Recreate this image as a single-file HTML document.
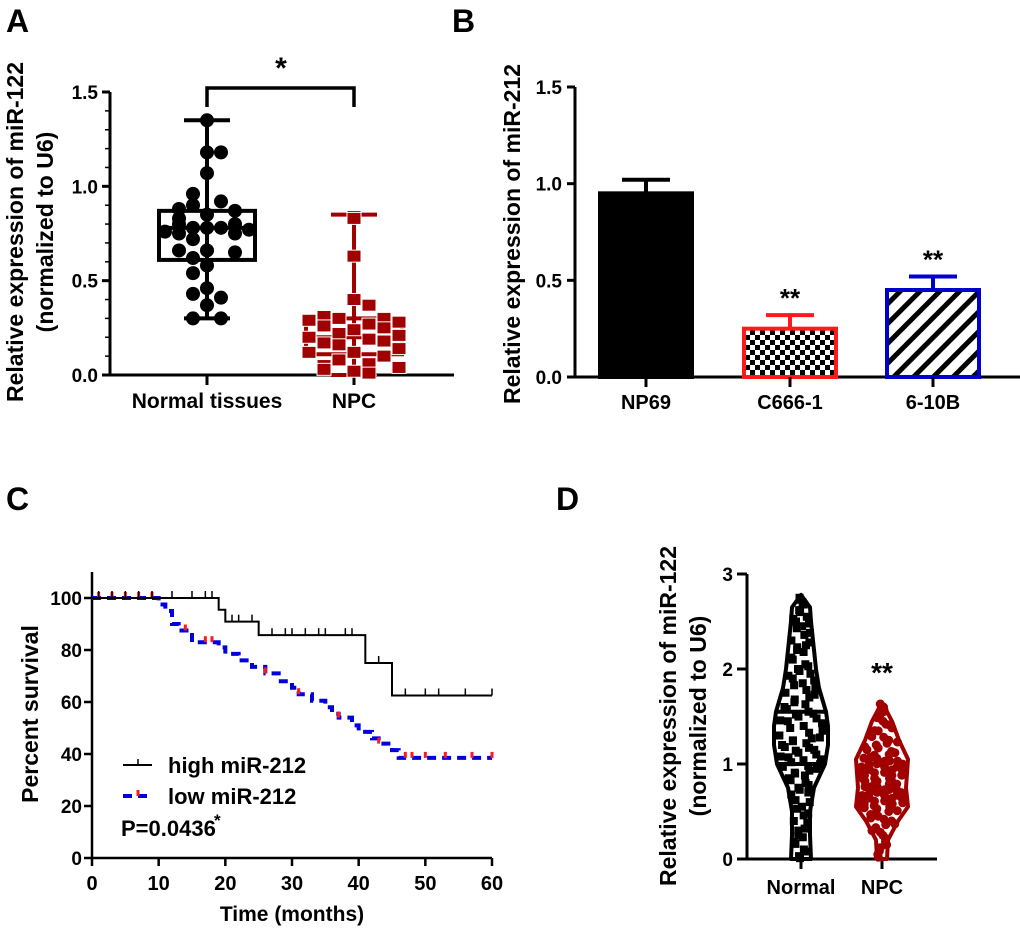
<!DOCTYPE html>
<html><head><meta charset="utf-8"><style>
html,body{margin:0;padding:0;background:#fff}
svg{display:block;font-family:"Liberation Sans",Arial,sans-serif;font-weight:bold}
</style></head><body>
<svg id="fig" width="1020" height="932" viewBox="0 0 1020 932" xmlns="http://www.w3.org/2000/svg">
<defs>
<pattern id="checker" width="10" height="10" patternUnits="userSpaceOnUse"><rect width="10" height="10" fill="#fff"/><rect width="5" height="5" fill="#000"/><rect x="5" y="5" width="5" height="5" fill="#000"/></pattern>
<pattern id="stripes" width="14" height="14" patternUnits="userSpaceOnUse" patternTransform="rotate(45)"><rect width="14" height="14" fill="#fff"/><rect width="5" height="14" fill="#000"/></pattern>
</defs>
<text x="6" y="32" font-size="32">A</text>
<text x="452" y="32" font-size="32">B</text>
<text x="6" y="510" font-size="32">C</text>
<text x="556" y="510" font-size="32">D</text>
<g id="pA"></g>
<g id="pB"></g>
<g id="pC"></g>
<g id="pD"></g>
</svg>
<script>
// ---------- Panel A data ----------
const aCategories = ["Normal tissues","NPC"];
const aYTicks = [0,0.5,1.0,1.5];
const aNormalBox = [0.30,0.61,0.78,0.87,1.35]; // min q1 median q3 max
const aNpcBox = [0.0,0.11,0.20,0.30,0.85];
const aNormalPoints = [1.35,1.18,1.18,1.07,0.96,0.92,0.90,0.88,0.87,0.85,0.83,0.80,0.80,0.78,0.78,0.78,0.77,0.76,0.75,0.75,0.72,0.66,0.66,0.65,0.62,0.58,0.54,0.46,0.43,0.41,0.37,0.30,0.30];
const aNormalJitter = [0,0,1,0,-1,1,-1,-2,2,0,-2,-2,2,-1,0,1,3,-3,2,-2,-1,-2,0,2,-1,0,-1,0,-1,1,0,-1,1];
const aNpcPoints = [0.84,0.83,0.63,0.40,0.37,0.31,0.30,0.30,0.29,0.28,0.27,0.26,0.25,0.24,0.22,0.21,0.20,0.19,0.18,0.17,0.16,0.14,0.12,0.12,0.10,0.08,0.06,0.05,0.04,0.03,0.02,0.01];
const aNpcJitter = [0,0,0,0,1,-2,2,-1,-3,3,1,-2,2,0,-1,3,-3,1,2,-2,-1,3,-3,0,2,-1,1,-2,3,-2,0,1];
// ---------- Panel B data ----------
const bCategories = ["NP69","C666-1","6-10B"];
const bValues = [0.95,0.25,0.45];
const bErrors = [0.07,0.07,0.07];
const bYTicks = [0,0.5,1.0,1.5];
// ---------- Panel C data ----------
const cXTicks = [0,10,20,30,40,50,60];
const cYTicks = [0,20,40,60,80,100];
const cHighTimes = [0,19,20,25,41,45,60];
const cHighSurv = [100,95.5,90.9,85.7,75,62.5,62.5];
const cHighCensor = [1,3,5,7,9,12,15,17,18,21,22,24,27,29,30,32,34,35,38,39,43,47,50,52,56,60];
const cLowTimes = [0,10,11,12,13,15,19,20,22,24,26,28,30,31,33,35,36,37,39,40,42,43,45,46,60];
const cLowSurv = [100,97.5,95,90,87.5,83,81,78.5,76,73.5,71,68,65.5,63,60.5,58,55.5,54,51,48.5,46,44,41.5,38.5,38.5];
const cLowCensor = [1,3,5,7,9,14,17,18,26,31,37,43,47,48,50,53,57,60];
// ---------- Panel D data ----------
const dCategories = ["Normal","NPC"];
const dYTicks = [0,1,2,3];
const dNormalProfileY = [0,0.25,0.5,0.75,1.0,1.2,1.4,1.55,1.8,2.0,2.3,2.5,2.65,2.78];
const dNormalProfileW = [0.1,0.09,0.09,0.13,0.24,0.27,0.27,0.25,0.18,0.15,0.12,0.1,0.09,0];
const dNormalLines = [1.0,1.55];
const dNpcProfileY = [0,0.2,0.4,0.55,0.75,1.05,1.25,1.45,1.65];
const dNpcProfileW = [0.05,0.06,0.16,0.26,0.24,0.26,0.17,0.1,0];
const dNormalPoints = [2.75,2.7,2.62,2.55,2.5,2.45,2.38,2.3,2.25,2.2,2.12,2.05,2.0,1.95,1.9,1.85,1.8,1.75,1.7,1.65,1.6,1.55,1.52,1.48,1.45,1.4,1.35,1.3,1.27,1.24,1.2,1.17,1.14,1.1,1.07,1.04,1.0,0.97,0.93,0.9,0.85,0.8,0.75,0.7,0.62,0.55,0.48,0.4,0.32,0.25,0.18,0.1,0.03];
const dNpcPoints = [1.6,1.52,1.45,1.38,1.32,1.25,1.2,1.15,1.1,1.06,1.03,1.0,0.97,0.94,0.91,0.88,0.85,0.82,0.79,0.76,0.73,0.7,0.67,0.64,0.61,0.58,0.56,0.54,0.5,0.45,0.4,0.33,0.25,0.15,0.05];

const NS="http://www.w3.org/2000/svg";
function mk(parent,tag,attrs,text){const e=document.createElementNS(NS,tag);for(const k in attrs)e.setAttribute(k,attrs[k]);if(text!==undefined)e.textContent=text;parent.appendChild(e);return e;}
function lin(d0,d1,r0,r1){return v=>r0+(v-d0)/(d1-d0)*(r1-r0);}

// ===== Panel A =====
(function(){
const g=document.getElementById('pA');
const y=lin(0,1.5,375,92);
const xs=[207,354];
let e=mk(g,'line',{x1:110,y1:375,x2:110,y2:92,stroke:'#000','stroke-width':3});

e=mk(g,'line',{x1:110,y1:375,x2:454,y2:375,stroke:'#000','stroke-width':3});

aYTicks.forEach(t=>{mk(g,'line',{x1:102,x2:110,y1:y(t),y2:y(t),stroke:'#000','stroke-width':3});
 e=mk(g,'text',{x:98,y:y(t)+7,'font-size':19,'text-anchor':'end'},t.toFixed(1));
 });
for(let i=1;i<16;i++){const t=i*0.1; if(Math.abs(t*2-Math.round(t*2))<1e-6)continue; mk(g,'line',{x1:105,x2:110,y1:y(t),y2:y(t),stroke:'#000','stroke-width':1.5});}
aCategories.forEach((c,i)=>{mk(g,'line',{x1:xs[i],x2:xs[i],y1:375,y2:385,stroke:'#000','stroke-width':3});
 e=mk(g,'text',{x:xs[i],y:408,'font-size':21,'text-anchor':'middle'},c);
 });
function box(b,cx,col,w,nm){const bg=mk(g,'g',{});
 mk(bg,'line',{x1:cx,x2:cx,y1:y(b[0]),y2:y(b[4]),stroke:col,'stroke-width':4});
 mk(bg,'line',{x1:cx-23,x2:cx+23,y1:y(b[0]),y2:y(b[0]),stroke:col,'stroke-width':4});
 mk(bg,'line',{x1:cx-23,x2:cx+23,y1:y(b[4]),y2:y(b[4]),stroke:col,'stroke-width':4});
 mk(bg,'rect',{x:cx-w/2,y:y(b[3]),width:w,height:y(b[1])-y(b[3]),fill:'none',stroke:col,'stroke-width':4});
 mk(bg,'line',{x1:cx-w/2,x2:cx+w/2,y1:y(b[2]),y2:y(b[2]),stroke:col,'stroke-width':4});}
box(aNormalBox,xs[0],'#000',96,'a-normal-box');
box(aNpcBox,xs[1],'#a00000',96,'a-npc-box');
aNormalPoints.forEach((v,i)=>{e=mk(g,'circle',{cx:xs[0]+aNormalJitter[i]*14,cy:y(v),r:7,fill:'#000'});
 });
aNpcPoints.forEach((v,i)=>{e=mk(g,'rect',{x:xs[1]+aNpcJitter[i]*15-7,y:y(v)-6,width:14,height:12,fill:'#a00000',stroke:'#fff','stroke-width':1});
 });
e=mk(g,'path',{d:`M${xs[0]} 107 V88 H${xs[1]} V107`,fill:'none',stroke:'#000','stroke-width':3.5});

e=mk(g,'text',{x:281,y:78,'font-size':30,'text-anchor':'middle'},'*');

e=mk(g,'text',{transform:'translate(23,232) rotate(-90)','font-size':23,'text-anchor':'middle'},'Relative expression of miR-122');

e=mk(g,'text',{transform:'translate(53,232) rotate(-90)','font-size':23,'text-anchor':'middle'},'(normalized to U6)');

})();

// ===== Panel B =====
(function(){
const g=document.getElementById('pB');
const y=lin(0,1.5,377,87);
const xs=[646,790,933];const bw=96;
const cols=['#000','#ff1a1a','#0000cc'];const fills=['#000','url(#checker)','url(#stripes)'];
let e=mk(g,'line',{x1:575,y1:377,x2:575,y2:87,stroke:'#000','stroke-width':3});

e=mk(g,'line',{x1:575,y1:377,x2:1020,y2:377,stroke:'#000','stroke-width':3});

bYTicks.forEach(t=>{mk(g,'line',{x1:567,x2:575,y1:y(t),y2:y(t),stroke:'#000','stroke-width':3});
 e=mk(g,'text',{x:562,y:y(t)+7,'font-size':19,'text-anchor':'end'},t.toFixed(1));
 });
bCategories.forEach((c,i)=>{
 const top=y(bValues[i]);
 mk(g,'line',{x1:xs[i],x2:xs[i],y1:top,y2:y(bValues[i]+bErrors[i]),stroke:cols[i],'stroke-width':4});
 mk(g,'line',{x1:xs[i]-24,x2:xs[i]+24,y1:y(bValues[i]+bErrors[i]),y2:y(bValues[i]+bErrors[i]),stroke:cols[i],'stroke-width':4});
 e=mk(g,'rect',{x:xs[i]-bw/2+2,y:top,width:bw-4,height:377-top,fill:fills[i],stroke:cols[i],'stroke-width':4});
 
 mk(g,'line',{x1:xs[i],x2:xs[i],y1:377,y2:387,stroke:'#000','stroke-width':3});
 e=mk(g,'text',{x:xs[i],y:409,'font-size':20,'text-anchor':'middle'},c);
 
 if(i>0){e=mk(g,'text',{x:xs[i],y:y(bValues[i]+bErrors[i])-8,'font-size':26,'text-anchor':'middle'},'**');
 }
});
e=mk(g,'text',{transform:'translate(520,234) rotate(-90)','font-size':23,'text-anchor':'middle'},'Relative expression of miR-212');

})();

// ===== Panel C =====
(function(){
const g=document.getElementById('pC');
const x=lin(0,60,92,492), y=lin(0,100,858,598);
let e=mk(g,'line',{x1:92,y1:858,x2:92,y2:572,stroke:'#000','stroke-width':2.5});

e=mk(g,'line',{x1:92,y1:858,x2:492,y2:858,stroke:'#000','stroke-width':2.5});

cYTicks.forEach(t=>{mk(g,'line',{x1:84,x2:92,y1:y(t),y2:y(t),stroke:'#000','stroke-width':2.5});
 e=mk(g,'text',{x:82,y:y(t)+7,'font-size':19,'text-anchor':'end'},t);
 });
cXTicks.forEach(t=>{mk(g,'line',{x1:x(t),x2:x(t),y1:858,y2:866,stroke:'#000','stroke-width':2.5});
 e=mk(g,'text',{x:x(t),y:890,'font-size':20,'text-anchor':'middle'},t);
 });
function stepPath(T,S){let d=`M${x(T[0])} ${y(S[0])}`;for(let i=1;i<T.length;i++){d+=` H${x(T[i])} V${y(S[i])}`;}return d;}
function survAt(T,S,t){let s=S[0];for(let i=0;i<T.length;i++){if(T[i]<=t)s=S[i];}return s;}
e=mk(g,'path',{d:stepPath(cLowTimes,cLowSurv),fill:'none',stroke:'#0000dd','stroke-width':4,'stroke-dasharray':'9 6'});

cLowCensor.forEach(t=>{const s=survAt(cLowTimes,cLowSurv,t);e=mk(g,'line',{x1:x(t),x2:x(t),y1:y(s),y2:y(s)-6,stroke:'#ff1a1a','stroke-width':3});
 });
e=mk(g,'path',{d:stepPath(cHighTimes,cHighSurv),fill:'none',stroke:'#000','stroke-width':2});

cHighCensor.forEach(t=>{const s=survAt(cHighTimes,cHighSurv,t);e=mk(g,'line',{x1:x(t),x2:x(t),y1:y(s),y2:y(s)-7,stroke:'#000','stroke-width':1.5});
 });
const lg=mk(g,'g',{});
mk(lg,'line',{x1:123,x2:152,y1:765,y2:765,stroke:'#000','stroke-width':2});
mk(lg,'line',{x1:138,x2:138,y1:765,y2:759,stroke:'#000','stroke-width':1.5});
e=mk(lg,'text',{x:168,y:773,'font-size':22},'high miR-212');
mk(lg,'line',{x1:123,x2:152,y1:796,y2:796,stroke:'#0000dd','stroke-width':4,'stroke-dasharray':'9 6'});
mk(lg,'line',{x1:138,x2:138,y1:796,y2:790,stroke:'#ff1a1a','stroke-width':3});
e=mk(lg,'text',{x:168,y:804,'font-size':22},'low miR-212');
e=mk(g,'text',{x:121,y:836,'font-size':22},'P=0.0436');
mk(g,'text',{x:214,y:826,'font-size':17},'*');
e=mk(g,'text',{x:292,y:921,'font-size':21,'text-anchor':'middle'},'Time (months)');

e=mk(g,'text',{transform:'translate(38,714) rotate(-90)','font-size':23,'text-anchor':'middle'},'Percent survival');

})();

// ===== Panel D =====
(function(){
const g=document.getElementById('pD');
const y=lin(0,3,859,574);const xs=[801,882];const wScale=100;
let e=mk(g,'line',{x1:747,y1:859,x2:747,y2:574,stroke:'#000','stroke-width':3});

e=mk(g,'line',{x1:747,y1:859,x2:937,y2:859,stroke:'#000','stroke-width':3});

dYTicks.forEach(t=>{mk(g,'line',{x1:737,x2:747,y1:y(t),y2:y(t),stroke:'#000','stroke-width':3});
 e=mk(g,'text',{x:733,y:y(t)+7,'font-size':19,'text-anchor':'end'},t);
 });
dCategories.forEach((c,i)=>{mk(g,'line',{x1:xs[i],x2:xs[i],y1:859,y2:869,stroke:'#000','stroke-width':3});
 e=mk(g,'text',{x:xs[i],y:894,'font-size':20,'text-anchor':'middle'},c);
 });
function violin(PY,PW,cx,col,nm){let d='';PY.forEach((v,i)=>{d+=(i?'L':'M')+(cx+PW[i]*wScale)+' '+y(v)+' ';});
 for(let i=PY.length-1;i>=0;i--){d+='L'+(cx-PW[i]*wScale)+' '+y(PY[i])+' ';}d+='Z';
 const el=mk(g,'path',{d:d,fill:'#fff',stroke:col,'stroke-width':4,'stroke-linejoin':'round'});
 }
function widthAt(PY,PW,v){for(let i=1;i<PY.length;i++){if(v<=PY[i]){const f=(v-PY[i-1])/(PY[i]-PY[i-1]);return PW[i-1]+f*(PW[i]-PW[i-1]);}}return 0;}
violin(dNormalProfileY,dNormalProfileW,xs[0],'#000','d-normal-violin');
violin(dNpcProfileY,dNpcProfileW,xs[1],'#a00000','d-npc-violin');
const off=[-0.7,0.3,-0.2,0.6,-0.5,0.1,0.8,-0.8,0.4,-0.3];
dNormalPoints.forEach((v,i)=>{const w=widthAt(dNormalProfileY,dNormalProfileW,v)*wScale;
 e=mk(g,'rect',{x:xs[0]+off[i%10]*w-4,y:y(v)-4,width:8,height:8,fill:'#000'});
 
 e=mk(g,'rect',{x:xs[0]-off[(i+3)%10]*w-4,y:y(v)-2,width:8,height:8,fill:'#000'});
 });
dNpcPoints.forEach((v,i)=>{const w=widthAt(dNpcProfileY,dNpcProfileW,v)*wScale;
 [0,3,6].forEach(k=>{e=mk(g,'circle',{cx:xs[1]+off[(i+k)%10]*w,cy:y(v)+k-3,r:4.5,fill:'#a00000'});
 });});
dNormalLines.forEach(v=>{const w=widthAt(dNormalProfileY,dNormalProfileW,v)*wScale;mk(g,'line',{x1:xs[0]-w,x2:xs[0]+w,y1:y(v),y2:y(v),stroke:'#000','stroke-width':4});});
e=mk(g,'text',{x:xs[1],y:682,'font-size':28,'text-anchor':'middle'},'**');

e=mk(g,'text',{transform:'translate(676,716) rotate(-90)','font-size':23,'text-anchor':'middle'},'Relative expression of miR-122');

e=mk(g,'text',{transform:'translate(706,716) rotate(-90)','font-size':23,'text-anchor':'middle'},'(normalized to U6)');

})();
</script>
</body></html>
